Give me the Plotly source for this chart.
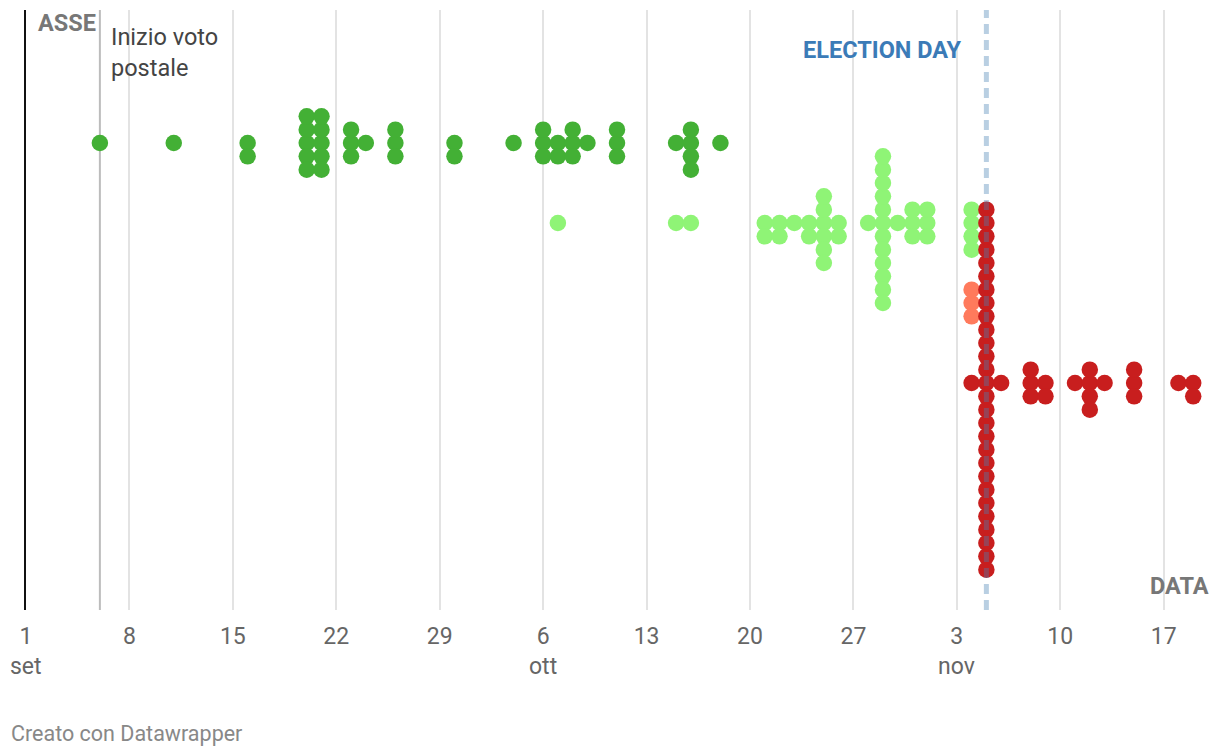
import plotly.graph_objects as go

# ---------------- data ----------------
row_names = ["Serie A", "Serie B", "Serie C", "Serie D"]
row_levels = [4, 3, 2, 1]
row_colors = ["#43b035", "#8ff476", "#ff7a5c", "#c81e1e"]

dark_green_dates = ["2024-09-06", "2024-09-11", "2024-09-16", "2024-09-20", "2024-09-21",
                    "2024-09-23", "2024-09-24", "2024-09-26", "2024-09-30", "2024-10-04",
                    "2024-10-06", "2024-10-07", "2024-10-08", "2024-10-09", "2024-10-11",
                    "2024-10-15", "2024-10-16", "2024-10-18"]
dark_green_counts = [1, 1, 2, 5, 5, 3, 1, 3, 2, 1, 3, 2, 3, 1, 3, 1, 4, 1]

light_green_dates = ["2024-10-07", "2024-10-15", "2024-10-16", "2024-10-21", "2024-10-22",
                     "2024-10-23", "2024-10-24", "2024-10-25", "2024-10-26", "2024-10-28",
                     "2024-10-29", "2024-10-30", "2024-10-31", "2024-11-01", "2024-11-04"]
light_green_counts = [1, 1, 1, 2, 2, 1, 2, 6, 2, 1, 12, 1, 3, 3, 4]

salmon_dates = ["2024-11-04"]
salmon_counts = [3]

red_dates = ["2024-11-04", "2024-11-05", "2024-11-06", "2024-11-08", "2024-11-09",
             "2024-11-11", "2024-11-12", "2024-11-13", "2024-11-15", "2024-11-18",
             "2024-11-19"]
red_counts = [1, 28, 1, 3, 2, 1, 4, 1, 3, 1, 2]

tick_dates = ["2024-09-01", "2024-09-08", "2024-09-15", "2024-09-22", "2024-09-29",
              "2024-10-06", "2024-10-13", "2024-10-20", "2024-10-27", "2024-11-03",
              "2024-11-10", "2024-11-17"]
tick_labels = ["1", "8", "15", "22", "29", "6", "13", "20", "27", "3", "10", "17"]
month_dates = ["2024-09-01", "2024-10-06", "2024-11-03"]
month_labels = ["set", "ott", "nov"]

x_start, x_end = "2024-09-01", "2024-11-20"
postal_start = "2024-09-06"
election_day = "2024-11-05"

# ---------------- helpers ----------------
STEP = 1 / 6  # vertical stacking step, in row units


def stack(dates, counts, level):
    xs, ys = [], []
    for d, n in zip(dates, counts):
        for k in range(n):
            if k == 0:
                off = 0
            elif k % 2 == 1:
                off = -((k + 1) // 2)
            else:
                off = k // 2
            xs.append(d)
            ys.append(level + off * STEP)
    return xs, ys


series = [
    (dark_green_dates, dark_green_counts),
    (light_green_dates, light_green_counts),
    (salmon_dates, salmon_counts),
    (red_dates, red_counts),
]

FONT = "Roboto"
fig = go.Figure()
for (dates, counts), name, lvl, col in zip(series, row_names, row_levels, row_colors):
    xs, ys = stack(dates, counts, lvl)
    fig.add_trace(go.Scatter(
        x=xs, y=ys, mode="markers", name=name,
        marker=dict(size=16.5, color=col, line=dict(width=0)),
        hoverinfo="x+name", showlegend=False,
    ))

# vertical reference lines
fig.add_shape(type="line", xref="x", yref="paper", x0=postal_start, x1=postal_start,
              y0=0, y1=1, line=dict(color="#bcbcbc", width=2), layer="below")
fig.add_shape(type="line", xref="x", yref="paper", x0=election_day, x1=election_day,
              y0=0, y1=1, line=dict(color="rgba(70,130,180,0.38)", width=5, dash="10px,6px"),
              layer="above")

annotations = [
    dict(text="<b>ASSE</b>", xref="x", yref="paper", x=x_start, xshift=10, y=1 - (23 - 10) / 600,
         xanchor="left", yanchor="middle", font=dict(size=23.5, color="#777777", family=FONT)),
    dict(text="Inizio voto<br>postale", xref="x", yref="paper", x=postal_start, xshift=9,
         y=1 - (53 - 10) / 600, xanchor="left", yanchor="middle", align="left",
         font=dict(size=23.5, color="#444444", family=FONT)),
    dict(text="<b>ELECTION DAY</b>", xref="x", yref="paper", x=election_day, xshift=-22,
         y=1 - (50 - 10) / 600, xanchor="right", yanchor="middle",
         font=dict(size=23.5, color="#3b7bb7", family=FONT)),
    dict(text="<b>DATA</b>", xref="paper", yref="paper", x=1, xshift=3, y=(610 - 586) / 600,
         xanchor="right", yanchor="middle", font=dict(size=23.5, color="#777777", family=FONT)),
    dict(text="Creato con Datawrapper", xref="paper", yref="paper", x=-17 / 1182,
         y=(610 - 733) / 600, xanchor="left", yanchor="middle",
         font=dict(size=21.5, color="#888888", family=FONT)),
]
for d, lab in zip(month_dates, month_labels):
    annotations.append(dict(text=lab, xref="x", yref="paper", x=d, y=(610 - 666) / 600,
                            xanchor="center", yanchor="middle",
                            font=dict(size=23, color="#666666", family=FONT)))
for a in annotations:
    a["showarrow"] = False

fig.update_layout(
    width=1220, height=756,
    margin=dict(l=26, r=12, t=10, b=146),
    paper_bgcolor="white", plot_bgcolor="white",
    font=dict(family=FONT),
    annotations=annotations,
    xaxis=dict(
        type="date", range=[x_start, x_end],
        tickvals=tick_dates, ticktext=tick_labels,
        showgrid=True, gridcolor="#e3e3e3", gridwidth=2,
        zeroline=False, showline=False, ticks="",
        ticklabelstandoff=10,
        tickfont=dict(size=23, color="#666666", family=FONT),
        fixedrange=True,
    ),
    yaxis=dict(
        range=[-1.8375, 5.6625],
        showgrid=False, zeroline=False, showticklabels=False,
        showline=True, linecolor="#111111", linewidth=2, ticks="",
        fixedrange=True,
    ),
)

fig.write_html("out.html", config={"displayModeBar": False},
               post_script="document.body.style.margin='0';")
